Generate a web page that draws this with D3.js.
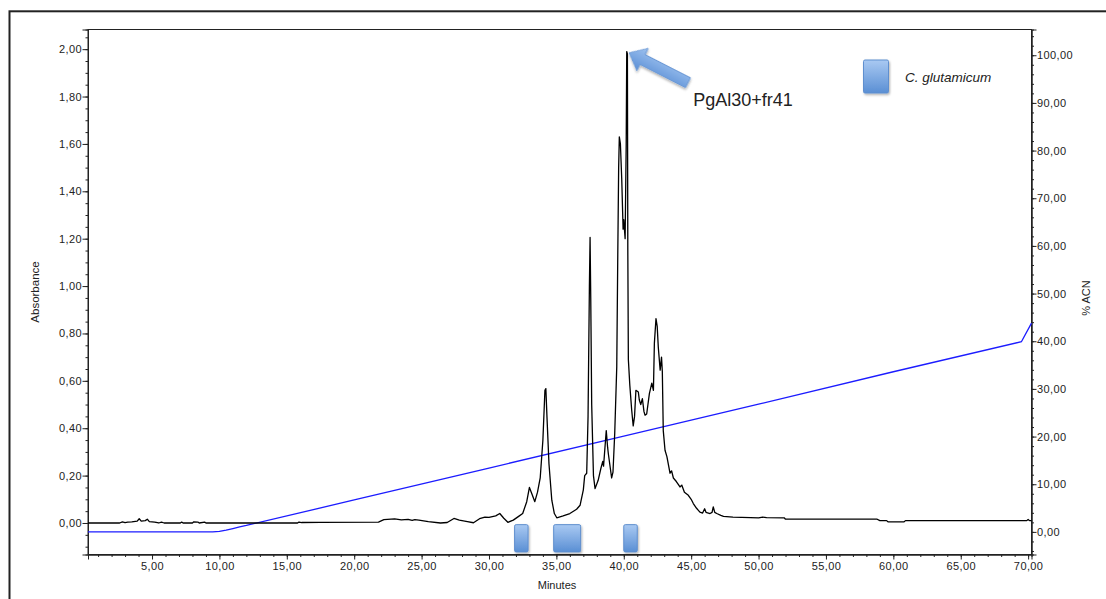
<!DOCTYPE html>
<html>
<head>
<meta charset="utf-8">
<script src="https://cdn.jsdelivr.net/npm/d3@7"></script>
<style>
body { margin: 0; background: #fff; }
svg { display: block; }
text { font-family: "Liberation Sans", Arial, sans-serif; fill: #222; }
</style>
</head>
<body>
<svg id="chart"></svg>
<script>
// absorbance trace, [minutes, absorbance]
let absTrace = [
  [0.25, 0], [2.6, 0], [2.8, 0.005], [3.0, 0.002], [3.2, 0.004], [3.5, 0.005], [3.9, 0.008],
  [4.05, 0.018], [4.2, 0.008], [4.5, 0.01], [4.65, 0.016], [4.8, 0.006], [5.2, 0.004], [5.5, 0],
  [5.7, 0.004], [5.9, 0], [7.1, 0], [7.2, 0.004], [7.3, 0], [8.0, 0], [8.1, 0.005], [8.4, 0.004],
  [8.5, 0], [8.9, 0.004], [9.0, 0], [15.8, 0], [15.9, 0.004], [16.1, 0.002], [17.5, 0.003],
  [21.8, 0.004], [22.2, 0.014], [23.0, 0.017], [23.5, 0.013], [24.0, 0.015], [24.3, 0.011],
  [24.5, 0.014], [24.8, 0.012], [25.5, 0.006], [26.4, 0], [26.9, 0.002], [27.4, 0.019],
  [27.8, 0.012], [28.4, 0.006], [28.85, 0.001], [29.3, 0.018], [29.7, 0.025], [30.0, 0.024],
  [30.5, 0.03], [30.8, 0.04], [31.1, 0.02], [31.4, 0.003], [31.8, 0.012], [32.2, 0.028],
  [32.5, 0.04], [32.8, 0.09], [33.0, 0.15], [33.2, 0.12], [33.4, 0.09], [33.6, 0.13],
  [33.8, 0.19], [34.0, 0.35], [34.15, 0.56], [34.22, 0.567], [34.3, 0.45], [34.45, 0.25],
  [34.66, 0.096], [34.85, 0.04], [35.03, 0.022], [35.5, 0.03], [36.0, 0.04], [36.5, 0.058],
  [36.76, 0.075], [37.0, 0.14], [37.1, 0.2], [37.25, 0.21], [37.35, 0.45], [37.45, 1.0],
  [37.5, 1.205], [37.55, 0.95], [37.62, 0.5], [37.75, 0.2], [37.87, 0.145], [38.1, 0.18],
  [38.3, 0.23], [38.44, 0.26], [38.5, 0.24], [38.62, 0.33], [38.7, 0.39], [38.8, 0.32],
  [38.86, 0.29], [39.1, 0.19], [39.2, 0.215], [39.33, 0.38], [39.48, 0.66], [39.55, 1.1],
  [39.62, 1.5], [39.67, 1.63], [39.75, 1.6], [39.85, 1.45], [39.95, 1.24], [40.0, 1.28],
  [40.1, 1.2], [40.18, 1.6], [40.22, 1.99], [40.27, 1.98], [40.3, 1.15], [40.34, 0.69],
  [40.45, 0.58], [40.59, 0.475], [40.7, 0.41], [40.8, 0.45], [40.9, 0.56], [41.08, 0.553],
  [41.15, 0.52], [41.26, 0.5], [41.38, 0.525], [41.5, 0.47], [41.58, 0.455], [41.7, 0.46],
  [41.9, 0.546], [42.08, 0.59], [42.2, 0.56], [42.27, 0.758], [42.39, 0.863], [42.48, 0.83],
  [42.56, 0.743], [42.7, 0.645], [42.8, 0.7], [42.86, 0.64], [42.93, 0.39], [43.06, 0.307],
  [43.2, 0.28], [43.43, 0.21], [43.55, 0.22], [43.68, 0.19], [43.9, 0.175], [44.17, 0.152],
  [44.3, 0.16], [44.5, 0.13], [44.79, 0.117], [45.0, 0.1], [45.16, 0.082], [45.4, 0.062],
  [45.65, 0.046], [45.85, 0.042], [46.0, 0.06], [46.1, 0.045], [46.4, 0.04], [46.55, 0.045],
  [46.64, 0.068], [46.75, 0.045], [46.9, 0.04], [47.2, 0.032], [47.4, 0.028], [48.1, 0.025],
  [49.4, 0.023], [50.0, 0.022], [50.3, 0.025], [50.6, 0.023], [51.9, 0.022], [52.0, 0.016],
  [58.8, 0.016], [59.0, 0.01], [59.5, 0.01], [59.6, 0.005], [60.8, 0.005], [60.9, 0.01],
  [69.9, 0.01], [70.0, 0.015], [70.1, 0.01], [70.25, 0.01]
]

// gradient, [minutes, % ACN]
let acnTrace = [
  [0.25, 0], [9.5, 0], [10.0, 0.1], [10.5, 0.35], [11.0, 0.7], [11.5, 1.05], [12.0, 1.35],
  [20.0, 6.7], [30.0, 13.4], [40.0, 20.1], [50.0, 26.8], [60.0, 33.6], [69.5, 39.9],
  [70.25, 43.8]
]

// collected fractions, [start, end] in minutes
let fractions = [[31.9, 32.9], [34.8, 36.8], [40.0, 41.0]]

let xTicks = [5, 10, 15, 20, 25, 30, 35, 40, 45, 50, 55, 60, 65, 70]
let absTicks = [0, 0.2, 0.4, 0.6, 0.8, 1.0, 1.2, 1.4, 1.6, 1.8, 2.0]
let acnTicks = [0, 10, 20, 30, 40, 50, 60, 70, 80, 90, 100]

let peakLabel = "PgAl30+fr41"
let legendLabel = "C. glutamicum"

let width = 1106
let height = 599
let padLeft = 88, padRight = 1031.5, padTop = 29.5, padBottom = 554.5

let svg = d3.select("#chart").attr("width", width).attr("height", height)

let xScale = d3.scaleLinear().domain([0.25, 70.25]).range([padLeft, padRight])
let absScale = d3.scaleLinear().domain([-0.133, 2.083]).range([padBottom, padTop])
let acnScale = d3.scaleLinear().domain([-4.74, 105.4]).range([padBottom, padTop])

let comma = d => d3.format(".2f")(d).replace(".", ",")

let defs = svg.append("defs")
let grad = defs.append("linearGradient").attr("id", "boxFill")
  .attr("x1", 0).attr("y1", 0).attr("x2", 0).attr("y2", 1)
grad.append("stop").attr("offset", "0%").attr("stop-color", "#a9c9f2")
grad.append("stop").attr("offset", "100%").attr("stop-color", "#5a8fd4")
let arrowGrad = defs.append("linearGradient").attr("id", "arrowFill")
  .attr("x1", 0).attr("y1", 0).attr("x2", 0).attr("y2", 1)
arrowGrad.append("stop").attr("offset", "0%").attr("stop-color", "#9ec2ef")
arrowGrad.append("stop").attr("offset", "100%").attr("stop-color", "#5b8fd6")
defs.append("filter").attr("id", "shadow")
  .attr("x", "-30%").attr("y", "-30%").attr("width", "160%").attr("height", "160%")
  .append("feDropShadow").attr("dx", 1).attr("dy", 1.5).attr("stdDeviation", 1)
  .attr("flood-color", "#000").attr("flood-opacity", 0.3)

// outer frame
svg.append("rect")
  .attr("x", 9.5).attr("y", 11.3).attr("width", 1120).attr("height", 620)
  .attr("fill", "none").attr("stroke", "#222").attr("stroke-width", 2)

// plot box
svg.append("rect")
  .attr("x", padLeft).attr("y", padTop).attr("width", padRight - padLeft).attr("height", padBottom - padTop)
  .attr("fill", "none").attr("stroke", "#222").attr("stroke-width", 1)

let styleAxis = (g) => {
  g.attr("font-family", "\"Liberation Sans\", Arial, sans-serif")
    .attr("font-size", 11).attr("letter-spacing", 0.4)
  g.selectAll("path.domain").attr("stroke", "#222")
  g.selectAll("line").attr("stroke", "#222")
  g.selectAll("text").attr("fill", "#222")
}

// minor ticks
svg.append("g").attr("transform", "translate(0," + padBottom + ")")
  .call(d3.axisBottom(xScale).tickValues(d3.range(1, 71, 1)).tickSize(2.5).tickFormat(""))
  .call(styleAxis)
svg.append("g").attr("transform", "translate(" + padLeft + ",0)")
  .call(d3.axisLeft(absScale).tickValues(d3.range(-0.1, 2.06, 0.05)).tickSize(2.5).tickFormat(""))
  .call(styleAxis)
svg.append("g").attr("transform", "translate(" + padRight + ",0)")
  .call(d3.axisRight(acnScale).tickValues(d3.range(-4, 105, 2)).tickSize(2.5).tickFormat(""))
  .call(styleAxis)

// major ticks
svg.append("g").attr("transform", "translate(0," + padBottom + ")")
  .call(d3.axisBottom(xScale).tickValues(xTicks).tickSize(5).tickPadding(3).tickFormat(comma))
  .call(styleAxis)
svg.append("g").attr("transform", "translate(" + padLeft + ",0)")
  .call(d3.axisLeft(absScale).tickValues(absTicks).tickSize(5.5).tickPadding(0.5).tickFormat(comma))
  .call(styleAxis)
svg.append("g").attr("transform", "translate(" + padRight + ",0)")
  .call(d3.axisRight(acnScale).tickValues(acnTicks).tickSize(5).tickPadding(0.5).tickFormat(comma))
  .call(styleAxis)

// axis titles
svg.append("text").attr("x", 557).attr("y", 589).attr("text-anchor", "middle")
  .attr("font-size", 11).text("Minutes")
svg.append("text").attr("transform", "translate(39," + ((padTop + padBottom) / 2) + ") rotate(-90)")
  .attr("text-anchor", "middle").attr("font-size", 11.5).text("Absorbance")
svg.append("text").attr("transform", "translate(1090," + ((padTop + padBottom) / 2 + 6) + ") rotate(-90)")
  .attr("text-anchor", "middle").attr("font-size", 11).text("% ACN")

// traces
let absLine = d3.line().x(d => xScale(d[0])).y(d => absScale(d[1]))
let acnLine = d3.line().x(d => xScale(d[0])).y(d => acnScale(d[1]))

svg.append("path").datum(acnTrace).attr("d", acnLine)
  .attr("fill", "none").attr("stroke", "#1c1cff").attr("stroke-width", 1.3)
svg.append("path").datum(absTrace).attr("d", absLine)
  .attr("fill", "none").attr("stroke", "#000").attr("stroke-width", 1.3)
  .attr("stroke-linejoin", "round")

// fraction boxes
svg.selectAll("rect.fraction").data(fractions).enter().append("rect")
  .attr("class", "fraction")
  .attr("x", d => xScale(d[0]))
  .attr("width", d => xScale(d[1]) - xScale(d[0]))
  .attr("y", absScale(-0.007))
  .attr("height", absScale(-0.122) - absScale(-0.007))
  .attr("rx", 1.5)
  .attr("fill", "url(#boxFill)").attr("stroke", "#5f8fcf").attr("stroke-width", 1)
  .attr("filter", "url(#shadow)")

// legend
svg.append("rect").attr("x", 863.5).attr("y", 60).attr("width", 25).attr("height", 33)
  .attr("rx", 1.5)
  .attr("fill", "url(#boxFill)").attr("stroke", "#5f8fcf").attr("stroke-width", 1)
  .attr("filter", "url(#shadow)")
svg.append("text").attr("x", 905).attr("y", 82)
  .attr("font-family", "\"Open Sans\", sans-serif").attr("font-style", "italic")
  .attr("font-size", 13.5).text(legendLabel)

// peak annotation arrow
let tipX = xScale(40.4), tipY = absScale(1.985)
let arrowPath = "M0,0 L15,-12.5 L15,-5.5 L66,-5.5 L66,5.5 L15,5.5 L15,12.5 Z"
svg.append("path").attr("d", arrowPath)
  .attr("transform", "translate(" + tipX + "," + tipY + ") rotate(27)")
  .attr("fill", "url(#arrowFill)").attr("stroke", "#6d9ad6").attr("stroke-width", 1)
  .attr("filter", "url(#shadow)")
svg.append("text").attr("x", tipX + 64).attr("y", tipY + 53)
  .attr("font-family", "\"Open Sans\", sans-serif").attr("font-size", 18)
  .attr("fill", "#111").text(peakLabel)
</script>
</body>
</html>
